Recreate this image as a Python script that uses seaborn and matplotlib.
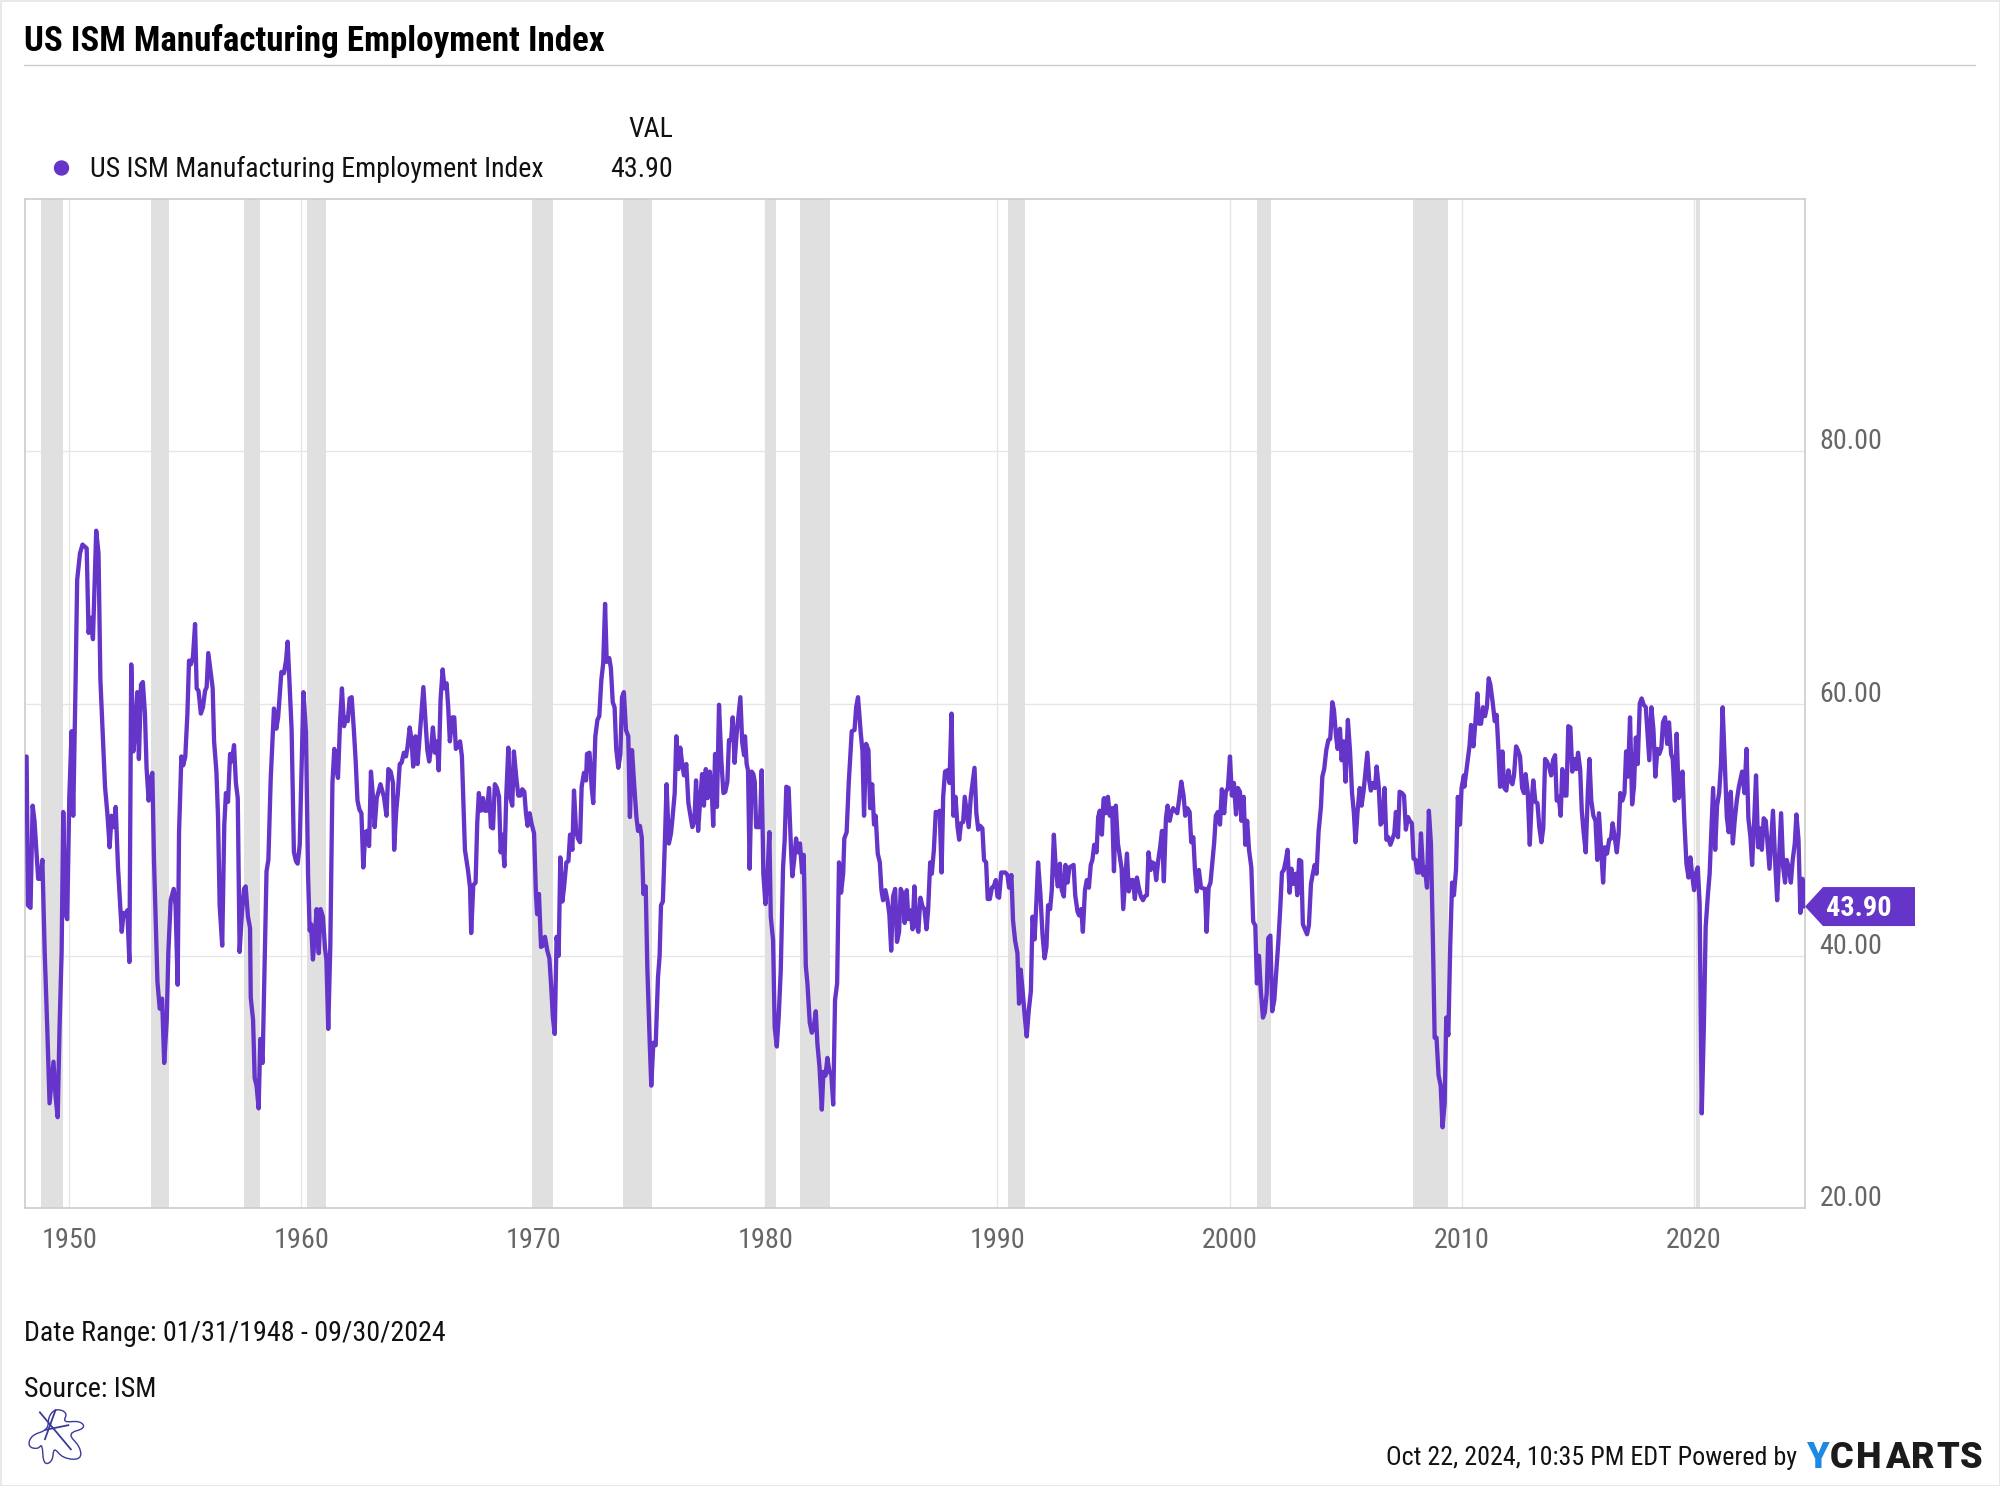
import matplotlib
matplotlib.use("Agg")
import matplotlib.pyplot as plt
import numpy as np
import pandas as pd
import seaborn as sns
from matplotlib.patches import Circle, PathPatch, Polygon, Rectangle
from matplotlib.path import Path
from matplotlib.transforms import Affine2D, ScaledTranslation

# Values: decimal year and index level at each turn of the line
dates_a = [1948.16, 1948.22, 1948.33, 1948.42, 1948.5, 1948.66, 1948.76, 1948.84, 1948.94, 1949.05,
           1949.15, 1949.24, 1949.32, 1949.41, 1949.5, 1949.58, 1949.67, 1949.74, 1949.83, 1949.91,
           1950.0, 1950.1, 1950.17, 1950.27, 1950.34, 1950.46, 1950.57, 1950.75, 1950.83, 1950.93,
           1951.02, 1951.16, 1951.26, 1951.34, 1951.54, 1951.64, 1951.74, 1951.82, 1951.93, 1952.0,
           1952.1, 1952.26, 1952.34, 1952.43, 1952.5, 1952.59, 1952.67, 1952.76, 1952.84, 1952.93,
           1953.0, 1953.09, 1953.17, 1953.26, 1953.33, 1953.42, 1953.5, 1953.58, 1953.65, 1953.8,
           1953.9, 1954.0, 1954.09, 1954.2, 1954.27, 1954.37, 1954.5, 1954.58, 1954.67, 1954.73,
           1954.83, 1954.91, 1955.0, 1955.09, 1955.16, 1955.24, 1955.33, 1955.42, 1955.49, 1955.57,
           1955.67, 1955.76, 1955.85, 1955.92, 1955.99, 1956.09, 1956.18, 1956.24, 1956.34, 1956.41,
           1956.48, 1956.59, 1956.68, 1956.75, 1956.84, 1956.93, 1957.0, 1957.1, 1957.18, 1957.26,
           1957.34, 1957.44, 1957.53, 1957.6, 1957.7, 1957.79, 1957.82, 1957.92, 1957.99, 1958.07,
           1958.16, 1958.23, 1958.33, 1958.42, 1958.5, 1958.58, 1958.68, 1958.82, 1958.92, 1959.0,
           1959.14, 1959.25, 1959.34, 1959.41, 1959.58, 1959.68, 1959.77, 1959.84, 1959.93, 1960.09,
           1960.2, 1960.29, 1960.36, 1960.42, 1960.5, 1960.58, 1960.66, 1960.75, 1960.83, 1960.93,
           1961.02, 1961.08, 1961.16, 1961.25, 1961.34, 1961.42, 1961.5, 1961.58, 1961.67, 1961.75,
           1961.84, 1961.92, 1962.0, 1962.08, 1962.17, 1962.27, 1962.34, 1962.42, 1962.5, 1962.59,
           1962.67, 1962.76, 1962.84, 1962.92, 1963.0, 1963.09, 1963.16, 1963.25, 1963.41]
values_a = [55.8, 44.0, 43.8, 51.9, 50.7, 46.1, 46.1, 47.6, 40.3, 34.3,
            28.3, 30.0, 31.6, 28.8, 27.2, 34.3, 40.3, 51.4, 43.4, 42.9,
            52.5, 57.8, 51.1, 61.6, 69.8, 71.9, 72.6, 72.3, 65.6, 66.8,
            65.1, 73.7, 71.9, 61.9, 53.4, 51.3, 48.6, 51.1, 50.2, 51.8,
            47.0, 41.9, 43.4, 43.2, 43.6, 39.5, 63.1, 56.2, 57.7, 60.9,
            55.6, 61.5, 61.7, 59.2, 54.9, 52.3, 54.0, 54.5, 47.6, 37.9,
            35.8, 36.6, 31.5, 34.9, 40.3, 44.4, 45.3, 44.0, 37.7, 49.8,
            55.8, 55.1, 55.8, 59.2, 63.4, 63.1, 63.7, 66.3, 61.2, 61.0,
            59.2, 59.7, 61.0, 61.3, 64.0, 62.5, 61.2, 57.0, 54.6, 51.0,
            44.0, 40.8, 50.4, 52.9, 52.2, 56.0, 55.4, 56.7, 53.7, 52.5,
            40.3, 43.4, 45.3, 45.5, 43.1, 42.2, 36.7, 34.9, 30.3, 29.7,
            27.9, 33.4, 31.5, 39.4, 46.7, 47.6, 54.0, 59.6, 58.0, 58.9,
            62.5, 62.4, 63.4, 64.9, 58.0, 48.2, 47.5, 47.3, 48.8, 60.9,
            57.7, 46.4, 42.0, 42.5, 39.7, 41.6, 43.7, 40.2, 43.7, 43.1,
            40.6, 39.7, 34.2, 40.9, 53.7, 56.4, 54.9, 54.1, 58.6, 61.2,
            58.2, 58.9, 58.6, 60.4, 60.5, 57.7, 55.5, 52.3, 51.6, 51.3,
            47.0, 49.8, 49.9, 48.7, 54.6, 52.5, 50.2, 52.5, 53.6]

dates_b = [1963.56, 1963.67, 1963.75, 1963.85, 1963.95, 1964.0, 1964.09, 1964.16, 1964.24, 1964.32,
           1964.42, 1964.51, 1964.58, 1964.67, 1964.75, 1964.82, 1964.92, 1965.01, 1965.11, 1965.26,
           1965.34, 1965.43, 1965.51, 1965.6, 1965.67, 1965.76, 1965.84, 1965.92, 1966.0, 1966.09,
           1966.17, 1966.26, 1966.33, 1966.4, 1966.51, 1966.59, 1966.66, 1966.75, 1966.84, 1966.92,
           1967.01, 1967.05, 1967.18, 1967.27, 1967.32, 1967.41, 1967.51, 1967.58, 1967.65, 1967.74,
           1967.83, 1967.91, 1968.0, 1968.09, 1968.17, 1968.26, 1968.34, 1968.43, 1968.52, 1968.59,
           1968.66, 1968.75, 1968.83, 1968.92, 1969.0, 1969.09, 1969.16, 1969.26, 1969.35, 1969.44,
           1969.52, 1969.61, 1969.68, 1969.75, 1969.84, 1969.92, 1970.03, 1970.11, 1970.16, 1970.24,
           1970.33, 1970.41, 1970.5, 1970.6, 1970.69, 1970.76, 1970.84, 1970.92, 1971.0, 1971.09,
           1971.16, 1971.25, 1971.32, 1971.42, 1971.51, 1971.58, 1971.68, 1971.75, 1971.84, 1971.92,
           1972.01, 1972.08, 1972.18, 1972.27, 1972.31, 1972.42, 1972.51, 1972.58, 1972.67, 1972.76,
           1972.84, 1972.93, 1973.01, 1973.09, 1973.16, 1973.27, 1973.34, 1973.42, 1973.5, 1973.57,
           1973.66, 1973.75, 1973.82, 1973.9, 1973.99, 1974.09, 1974.16, 1974.25, 1974.34, 1974.44,
           1974.51, 1974.59, 1974.67, 1974.74, 1974.84, 1974.91, 1975.01, 1975.08, 1975.17, 1975.27,
           1975.37, 1975.44, 1975.5, 1975.58, 1975.67, 1975.74, 1975.84, 1975.93, 1976.0, 1976.09,
           1976.16, 1976.25, 1976.33, 1976.42, 1976.49, 1976.59, 1976.68, 1976.85, 1976.94, 1977.01,
           1977.1, 1977.18, 1977.27, 1977.35, 1977.43, 1977.51, 1977.6, 1977.68, 1977.75, 1977.83,
           1977.91, 1978.0, 1978.1, 1978.19, 1978.27, 1978.36, 1978.43, 1978.52, 1978.59, 1978.67,
           1978.76, 1978.92, 1979.0, 1979.08]
values_b = [52.6, 51.1, 54.8, 54.6, 53.7, 48.4, 51.5, 52.9, 55.2, 55.3,
            56.1, 55.8, 56.6, 58.1, 57.1, 55.0, 57.4, 55.2, 57.6, 61.3,
            58.9, 56.3, 55.4, 56.6, 58.1, 56.1, 57.0, 54.7, 60.3, 62.7,
            61.2, 61.6, 59.7, 57.0, 58.9, 58.9, 56.4, 56.6, 57.0, 55.8,
            50.7, 48.4, 46.8, 45.4, 41.8, 45.6, 45.8, 50.5, 52.9, 51.5,
            52.5, 51.5, 51.5, 53.3, 50.2, 50.1, 53.6, 53.3, 52.6, 48.2,
            49.6, 47.1, 52.6, 56.5, 52.6, 51.9, 56.2, 54.2, 52.7, 52.7,
            53.2, 53.0, 51.3, 50.3, 51.3, 50.5, 49.7, 44.9, 43.3, 44.9,
            40.7, 40.8, 41.5, 40.4, 39.8, 37.8, 35.1, 33.8, 41.5, 40.0,
            47.8, 44.3, 45.4, 47.4, 47.5, 49.6, 48.4, 53.1, 49.9, 49.3,
            49.0, 53.4, 54.5, 53.9, 56.0, 56.1, 53.4, 52.1, 57.4, 58.7,
            59.0, 61.9, 63.2, 67.9, 63.3, 63.6, 62.8, 60.1, 59.7, 56.4,
            54.9, 56.0, 60.5, 60.9, 57.9, 57.4, 51.0, 56.3, 53.7, 51.0,
            49.9, 50.3, 49.4, 44.9, 45.5, 39.1, 33.3, 29.7, 33.1, 32.9,
            38.3, 40.0, 44.0, 44.3, 49.2, 53.6, 48.9, 49.7, 51.0, 52.9,
            57.4, 54.8, 56.5, 55.1, 54.3, 55.2, 52.1, 50.2, 50.7, 53.9,
            49.9, 52.1, 54.4, 51.9, 54.8, 52.5, 54.6, 53.4, 50.3, 56.0,
            51.8, 59.9, 55.5, 52.9, 53.0, 53.8, 57.1, 57.1, 58.9, 55.3,
            57.6, 60.5, 56.9, 55.9]

dates_c = [1979.12, 1979.19, 1979.25, 1979.32, 1979.41, 1979.48, 1979.54, 1979.6, 1979.76, 1979.84,
           1979.91, 1980.0, 1980.09, 1980.17, 1980.23, 1980.33, 1980.4, 1980.49, 1980.57, 1980.66,
           1980.76, 1980.83, 1980.9, 1981.0, 1981.11, 1981.16, 1981.24, 1981.32, 1981.41, 1981.49,
           1981.58, 1981.65, 1981.74, 1981.81, 1981.91, 1982.0, 1982.08, 1982.17, 1982.24, 1982.33,
           1982.43, 1982.5, 1982.59, 1982.67, 1982.76, 1982.84, 1982.92, 1983.0, 1983.09, 1983.17,
           1983.26, 1983.35, 1983.4, 1983.5, 1983.59, 1983.72, 1983.84, 1983.91, 1983.99, 1984.11,
           1984.18, 1984.25, 1984.34, 1984.44, 1984.51, 1984.6, 1984.68, 1984.75, 1984.84, 1984.93,
           1985.0, 1985.07, 1985.17, 1985.26, 1985.34, 1985.42, 1985.5, 1985.59, 1985.67, 1985.76,
           1985.83, 1985.92, 1986.0, 1986.09, 1986.16, 1986.25, 1986.34, 1986.42, 1986.51, 1986.59,
           1986.68, 1986.77, 1986.85, 1986.94, 1987.01, 1987.1, 1987.17, 1987.26, 1987.34, 1987.43,
           1987.51, 1987.59, 1987.66, 1987.74, 1987.84, 1987.93, 1988.02, 1988.1, 1988.19, 1988.28,
           1988.35, 1988.43, 1988.52, 1988.59, 1988.68, 1988.76, 1988.85, 1989.01, 1989.09, 1989.17,
           1989.25, 1989.35, 1989.42, 1989.51, 1989.58, 1989.67, 1989.76, 1989.84, 1989.93, 1990.0,
           1990.07, 1990.16, 1990.34, 1990.43, 1990.5, 1990.6, 1990.67, 1990.76, 1990.86, 1990.93,
           1991.0, 1991.09, 1991.18, 1991.26, 1991.35, 1991.44, 1991.51, 1991.6, 1991.68, 1991.75,
           1991.85, 1991.94, 1992.03, 1992.11, 1992.18, 1992.27, 1992.34, 1992.43, 1992.51, 1992.6,
           1992.69, 1992.77, 1992.86, 1992.93, 1993.02, 1993.1, 1993.28, 1993.35, 1993.45, 1993.52,
           1993.61, 1993.68, 1993.77, 1993.85, 1993.94, 1994.02, 1994.09, 1994.17, 1994.27, 1994.34,
           1994.41, 1994.5, 1994.57]
values_c = [57.4, 55.2, 54.7, 46.9, 54.6, 54.4, 53.8, 50.2, 50.2, 54.7,
            46.5, 44.1, 46.5, 49.8, 43.1, 41.2, 34.3, 32.8, 35.1, 38.8,
            47.0, 49.2, 53.4, 53.3, 48.1, 46.3, 47.6, 49.3, 48.2, 48.9,
            46.6, 48.0, 39.2, 37.8, 34.7, 33.9, 34.3, 35.6, 33.0, 31.2,
            27.8, 30.8, 30.5, 31.9, 30.8, 30.6, 28.2, 36.5, 37.8, 47.4,
            45.0, 46.5, 49.3, 49.8, 53.7, 57.8, 57.9, 59.7, 60.5, 57.6,
            56.3, 51.1, 56.8, 56.3, 51.7, 53.6, 50.4, 51.1, 48.1, 47.4,
            45.2, 44.4, 45.2, 44.4, 43.3, 40.4, 44.7, 45.3, 41.1, 41.9,
            45.3, 44.9, 42.6, 45.2, 42.9, 43.6, 42.1, 45.5, 42.5, 41.9,
            44.6, 43.9, 43.7, 42.1, 43.6, 47.4, 46.5, 48.4, 51.4, 51.3,
            51.5, 46.6, 52.6, 54.6, 54.7, 53.7, 59.2, 51.1, 52.6, 50.2,
            49.2, 50.5, 50.6, 52.6, 51.3, 50.2, 52.6, 54.9, 51.3, 50.0,
            50.3, 50.1, 47.6, 47.4, 44.5, 44.5, 45.4, 45.5, 46.0, 44.7,
            44.6, 46.6, 46.6, 46.4, 45.4, 46.4, 42.8, 41.2, 40.2, 36.2,
            38.9, 37.1, 35.1, 33.6, 35.7, 37.2, 43.1, 41.3, 44.4, 47.4,
            44.9, 41.7, 39.8, 40.7, 44.0, 43.7, 45.2, 49.6, 47.0, 45.5,
            47.3, 45.2, 44.7, 47.2, 45.8, 47.0, 47.2, 44.8, 43.5, 43.2,
            43.7, 41.9, 45.2, 46.0, 45.4, 47.2, 47.6, 48.8, 48.2, 51.0,
            51.5, 49.6, 52.4]

dates_d = [1994.6, 1994.67, 1994.76, 1994.84, 1994.94, 1995.02, 1995.1, 1995.19, 1995.26, 1995.35,
           1995.42, 1995.51, 1995.58, 1995.66, 1995.76, 1995.84, 1995.92, 1996.01, 1996.09, 1996.18,
           1996.27, 1996.35, 1996.44, 1996.51, 1996.6, 1996.68, 1996.76, 1996.84, 1996.93, 1997.01,
           1997.09, 1997.17, 1997.26, 1997.33, 1997.42, 1997.49, 1997.57, 1997.75, 1997.85, 1997.92,
           1998.02, 1998.09, 1998.18, 1998.28, 1998.35, 1998.44, 1998.51, 1998.59, 1998.68, 1998.77,
           1998.94, 1999.01, 1999.1, 1999.18, 1999.27, 1999.34, 1999.41, 1999.5, 1999.59, 1999.67,
           1999.77, 1999.84, 1999.93, 2000.02, 2000.1, 2000.19, 2000.28, 2000.36, 2000.45, 2000.51,
           2000.61, 2000.68, 2000.76, 2000.84, 2000.94, 2001.02, 2001.11, 2001.18, 2001.27, 2001.35,
           2001.44, 2001.52, 2001.6, 2001.67, 2001.76, 2001.84, 2001.93, 2002.01, 2002.1, 2002.19,
           2002.26, 2002.34, 2002.43, 2002.5, 2002.59, 2002.67, 2002.76, 2002.85, 2002.92, 2003.0,
           2003.09, 2003.16, 2003.25, 2003.34, 2003.42, 2003.51, 2003.59, 2003.67, 2003.75, 2003.84,
           2003.94, 2004.0, 2004.08, 2004.17, 2004.26, 2004.34, 2004.43, 2004.5, 2004.59, 2004.66,
           2004.76, 2004.83, 2004.92, 2005.0, 2005.1, 2005.19, 2005.28, 2005.36, 2005.43, 2005.52,
           2005.61, 2005.69, 2005.78, 2005.85, 2005.94, 2006.02, 2006.09, 2006.18, 2006.27, 2006.34,
           2006.43, 2006.51, 2006.6, 2006.68, 2006.76, 2006.84, 2006.93, 2007.01, 2007.1, 2007.17,
           2007.26, 2007.33, 2007.43, 2007.52, 2007.6, 2007.69, 2007.77, 2007.86, 2007.93, 2008.02,
           2008.09, 2008.18, 2008.25, 2008.35, 2008.42, 2008.51, 2008.59, 2008.68, 2008.77, 2008.84,
           2008.92, 2009.01, 2009.1, 2009.18, 2009.27, 2009.34, 2009.43, 2009.51, 2009.59, 2009.67,
           2009.76, 2009.84, 2009.93, 2010.0, 2010.1]
values_d = [52.5, 51.3, 52.6, 51.1, 51.7, 46.7, 51.9, 48.9, 48.0, 46.9,
            43.7, 46.2, 48.1, 45.1, 46.0, 46.0, 44.5, 46.2, 45.4, 44.7,
            44.4, 44.7, 44.8, 48.2, 46.8, 47.4, 47.3, 46.0, 47.6, 48.6,
            49.9, 45.9, 50.9, 51.9, 50.7, 51.3, 51.7, 51.3, 52.7, 53.8,
            52.7, 51.1, 51.7, 51.4, 49.0, 49.4, 46.8, 45.1, 46.8, 45.4,
            45.3, 41.9, 45.4, 45.8, 47.6, 49.0, 51.1, 51.4, 50.4, 53.2,
            51.3, 53.0, 53.3, 55.8, 52.7, 53.7, 51.2, 53.3, 53.0, 50.7,
            52.6, 48.8, 50.7, 48.4, 47.0, 42.7, 42.4, 37.8, 40.0, 37.2,
            35.1, 35.5, 37.0, 41.4, 41.6, 35.6, 36.5, 38.6, 41.0, 43.9,
            46.6, 46.8, 47.6, 48.4, 45.0, 46.9, 45.7, 46.5, 44.8, 47.6,
            47.5, 42.5, 42.1, 41.7, 42.4, 45.7, 46.5, 47.2, 46.5, 49.9,
            51.8, 54.2, 54.8, 56.3, 57.1, 57.2, 60.1, 59.5, 57.4, 56.4,
            58.0, 55.5, 57.0, 53.8, 58.7, 56.3, 52.9, 51.3, 49.0, 51.5,
            53.3, 51.9, 53.1, 54.4, 56.1, 53.9, 53.1, 53.7, 53.3, 55.0,
            53.4, 50.4, 50.7, 53.3, 49.2, 49.4, 48.8, 49.2, 49.7, 51.4,
            49.4, 53.0, 52.9, 52.7, 50.0, 51.0, 50.7, 50.5, 47.7, 47.6,
            46.6, 46.6, 49.7, 46.4, 47.0, 45.4, 51.5, 48.9, 40.7, 33.5,
            33.5, 30.5, 29.7, 26.4, 28.3, 35.1, 33.7, 40.7, 45.8, 44.8,
            46.8, 52.6, 50.4, 53.3, 54.3]

dates_e = [2010.12, 2010.23, 2010.34, 2010.41, 2010.51, 2010.59, 2010.68, 2010.75, 2010.84, 2010.92,
           2011.01, 2011.09, 2011.17, 2011.24, 2011.34, 2011.43, 2011.51, 2011.59, 2011.66, 2011.76,
           2011.84, 2011.93, 2012.02, 2012.1, 2012.19, 2012.26, 2012.35, 2012.43, 2012.52, 2012.61,
           2012.69, 2012.76, 2012.85, 2012.94, 2013.02, 2013.09, 2013.18, 2013.27, 2013.35, 2013.44,
           2013.52, 2013.6, 2013.68, 2013.77, 2013.86, 2013.94, 2014.03, 2014.1, 2014.19, 2014.27,
           2014.34, 2014.45, 2014.52, 2014.6, 2014.69, 2014.77, 2014.86, 2014.95, 2015.02, 2015.11,
           2015.18, 2015.26, 2015.35, 2015.44, 2015.51, 2015.59, 2015.68, 2015.77, 2015.85, 2015.92,
           2016.01, 2016.1, 2016.17, 2016.27, 2016.36, 2016.44, 2016.51, 2016.6, 2016.69, 2016.77,
           2016.84, 2016.93, 2017.02, 2017.09, 2017.17, 2017.26, 2017.35, 2017.43, 2017.51, 2017.59,
           2017.68, 2017.76, 2017.85, 2017.94, 2018.01, 2018.09, 2018.18, 2018.27, 2018.35, 2018.44,
           2018.52, 2018.61, 2018.68, 2018.77, 2018.86, 2018.94, 2019.03, 2019.1, 2019.19, 2019.27,
           2019.36, 2019.43, 2019.52, 2019.6, 2019.69, 2019.78, 2019.86, 2019.93, 2020.02, 2020.11,
           2020.18, 2020.26, 2020.35, 2020.44, 2020.52, 2020.61, 2020.69, 2020.84, 2020.93, 2021.01,
           2021.1, 2021.18, 2021.25, 2021.34, 2021.43, 2021.51, 2021.6, 2021.69, 2021.77, 2021.86,
           2021.95, 2022.09, 2022.19, 2022.28, 2022.36, 2022.45, 2022.52, 2022.61, 2022.69, 2022.78,
           2022.87, 2022.94, 2023.02, 2023.11, 2023.2, 2023.27, 2023.42, 2023.51, 2023.6, 2023.68,
           2023.77, 2023.86, 2023.94, 2024.01, 2024.1, 2024.19, 2024.27, 2024.36, 2024.43, 2024.52,
           2024.6, 2024.69, 2024.75]
values_e = [53.4, 55.0, 56.6, 58.3, 56.6, 58.4, 60.8, 58.4, 58.4, 59.7,
            59.0, 59.7, 62.0, 61.5, 60.1, 58.6, 59.1, 56.3, 53.4, 56.2,
            53.3, 53.1, 54.7, 53.9, 53.6, 54.3, 56.6, 56.3, 55.8, 53.3,
            52.9, 54.4, 53.0, 48.8, 52.3, 53.9, 52.2, 52.1, 50.2, 49.0,
            50.1, 55.6, 55.4, 55.0, 54.3, 55.5, 55.9, 52.3, 52.6, 51.1,
            54.8, 52.7, 52.7, 58.2, 58.1, 54.6, 55.6, 54.8, 56.1, 54.8,
            51.5, 49.8, 48.2, 52.9, 55.6, 52.3, 51.1, 50.7, 47.6, 51.3,
            48.6, 45.8, 48.6, 48.1, 49.2, 49.3, 50.5, 49.4, 48.2, 49.7,
            52.9, 52.3, 52.9, 56.2, 54.2, 58.9, 52.0, 53.4, 57.3, 55.2,
            60.0, 60.4, 59.9, 59.7, 57.8, 55.5, 59.7, 57.9, 54.2, 56.4,
            56.0, 56.5, 58.5, 58.9, 56.8, 58.5, 56.0, 55.6, 52.3, 57.6,
            52.5, 53.1, 54.6, 50.7, 47.3, 46.2, 47.8, 46.5, 45.2, 46.6,
            47.0, 44.1, 27.5, 34.3, 42.3, 44.7, 46.5, 53.3, 48.4, 51.9,
            52.9, 55.2, 59.7, 55.5, 51.0, 49.8, 53.0, 48.9, 50.7, 52.3,
            53.4, 54.6, 52.9, 56.4, 50.9, 49.4, 47.2, 50.7, 54.3, 48.6,
            50.1, 48.4, 50.9, 50.7, 48.6, 46.9, 51.5, 47.6, 44.4, 47.6,
            51.3, 47.0, 45.8, 47.6, 47.0, 45.8, 47.6, 48.9, 51.2, 49.2,
            43.4, 46.1, 43.9]

recession_starts = [1948.79, 1953.5, 1957.54, 1960.23, 1969.92, 1973.85, 1979.99, 1981.47, 1990.47, 2001.18, 2007.9, 2020.11]
recession_ends = [1949.74, 1954.31, 1958.23, 1961.08, 1970.83, 1975.13, 1980.47, 1982.8, 1991.18, 2001.8, 2009.4, 2020.26]

x_ticks = [1950, 1960, 1970, 1980, 1990, 2000, 2010, 2020]
y_ticks = [20, 40, 60, 80]
y_tick_labels = ["20.00", "40.00", "60.00", "80.00"]

series_name = "US ISM Manufacturing Employment Index"
last_value = 43.90

PURPLE = "#6534c9"
W, H = 2000, 1486

sns.set_theme(style="white")
plt.rcParams['font.family'] = ['Roboto Condensed', 'Liberation Sans Narrow', 'Roboto', 'DejaVu Sans']

df = pd.DataFrame({
    "date": np.concatenate([dates_a, dates_b, dates_c, dates_d, dates_e]),
    "value": np.concatenate([values_a, values_b, values_c, values_d, values_e]),
})

fig = plt.figure(figsize=(W / 100, H / 100), dpi=100)
ax = fig.add_axes([24.5 / W, 1 - 1208 / H, (1805 - 24.5) / W, (1208 - 199) / H])

# page coordinates in pixels, y going down like the reference
page = Affine2D().scale(1, -1).translate(0, H) + Affine2D().scale(1 / W, 1 / H) + fig.transFigure

for start, end in zip(recession_starts, recession_ends):
    ax.axvspan(start, end, color="#e0e0e0", lw=0, zorder=1)

sns.lineplot(data=df, x="date", y="value", color=PURPLE, linewidth=3.1, estimator=None,
             ax=ax, zorder=3, solid_joinstyle="round")

ax.set_xlim(1948.07, 2024.8)
ax.set_ylim(20, 100)
ax.set_xlabel("")
ax.set_ylabel("")
ax.set_xticks(x_ticks)
ax.set_xticklabels([str(t) for t in x_ticks])
ax.set_yticks(y_ticks)
ax.set_yticklabels(y_tick_labels)
ax.yaxis.tick_right()
ax.grid(True, color="#e6e6e6", linewidth=1, zorder=0)
ax.set_axisbelow(True)
ax.tick_params(axis="x", length=0, pad=14, labelsize=20.3, labelcolor="#666666")
ax.tick_params(axis="y", length=0, pad=10.5, labelsize=20.2, labelcolor="#666666")
for lab in ax.get_yticklabels():
    lab.set_verticalalignment("baseline")
    lab.set_transform(lab.get_transform() + ScaledTranslation(0, 2 / 100, fig.dpi_scale_trans))
for side in ax.spines.values():
    side.set_color("#cccccc")
    side.set_linewidth(1.2)

# outer frame and title rule
fig.add_artist(Rectangle((0.5, 0.5), W - 1, H - 1, transform=page, fill=False, ec="#e4e4e4", lw=1.2))
fig.add_artist(plt.Line2D([24, 1975], [64.5, 64.5], transform=page, color="#cccccc", lw=1))

fig.text(24, 40.5, series_name, transform=page, fontsize=25.2, fontweight="bold", color="black", va="center")
fig.text(673, 129.5, "VAL", transform=page, fontsize=20.1, color="#111111", ha="right", va="center")
fig.add_artist(Circle((61.5, 168), 7, transform=page, color=PURPLE))
fig.text(90, 169.5, series_name, transform=page, fontsize=20.1, color="#111111", va="center")
fig.text(673, 169.5, f"{last_value:.2f}", transform=page, fontsize=20.1, color="#111111", ha="right", va="center")

fig.text(24, 1333.5, "Date Range: 01/31/1948 - 09/30/2024", transform=page, fontsize=20.2, color="#111111", va="center")
fig.text(24, 1389.5, "Source: ISM", transform=page, fontsize=20.2, color="#111111", va="center")
fig.text(1797, 1457.5, "Oct 22, 2024, 10:35 PM EDT Powered by", transform=page, fontsize=18.7, color="#111111",
         ha="right", va="center")

# YCHARTS wordmark, one letter at a time for the wide spacing
for letter, lx, col in zip("YCHARTS", [1817, 1842, 1869, 1897, 1923, 1948, 1971],
                           ["#1e88e5"] + ["#1b1b1b"] * 6):
    fig.text(lx, 1458.5, letter, transform=page, fontsize=26, fontweight="black", color=col,
             family=["Roboto", "DejaVu Sans"], ha="center", va="center")

# value tag at the right edge, its tip at the last value
tip_x, tip_y = page.inverted().transform(ax.transData.transform((2024.8, last_value)))
fig.add_artist(Polygon([(tip_x, tip_y), (tip_x + 18, tip_y - 19.5), (tip_x + 110, tip_y - 19.5),
                        (tip_x + 110, tip_y + 19.5), (tip_x + 18, tip_y + 19.5)],
                       closed=True, transform=page, color=PURPLE, lw=0))
fig.text(tip_x + 54, tip_y + 1.5, f"{last_value:.2f}", transform=page, fontsize=20.3, fontweight="bold", color="white",
         ha="center", va="center")

# ISM flower logo, a loose hand sketch
def logo_path(pts, closed=True):
    pts = [(x / 2.24, 1200 + y / 3) for x, y in pts]
    if not closed:
        return Path(pts)
    mids = [((pts[i][0] + pts[(i + 1) % len(pts)][0]) / 2, (pts[i][1] + pts[(i + 1) % len(pts)][1]) / 2)
            for i in range(len(pts))]
    verts = [mids[-1]]
    codes = [Path.MOVETO]
    for i in range(len(pts)):
        verts += [pts[i], mids[i]]
        codes += [Path.CURVE3, Path.CURVE3]
    return Path(verts, codes)

outline = [(108, 690), (70, 705), (62, 740), (85, 748), (95, 730), (97, 795), (118, 785), (120, 740),
           (140, 775), (182, 780), (180, 740), (150, 700), (192, 685), (180, 662), (140, 668), (152, 638),
           (125, 625), (108, 650)]
fig.add_artist(PathPatch(logo_path(outline), transform=page, fill=False, ec="#3b3a9a", lw=1))
for stroke in ([(88, 635), (160, 750)], [(125, 628), (100, 720)], [(100, 690), (155, 675)]):
    fig.add_artist(PathPatch(logo_path(stroke, closed=False), transform=page, fill=False, ec="#3b3a9a", lw=1.3))

fig.savefig("out.png", dpi=100)
plt.close(fig)
